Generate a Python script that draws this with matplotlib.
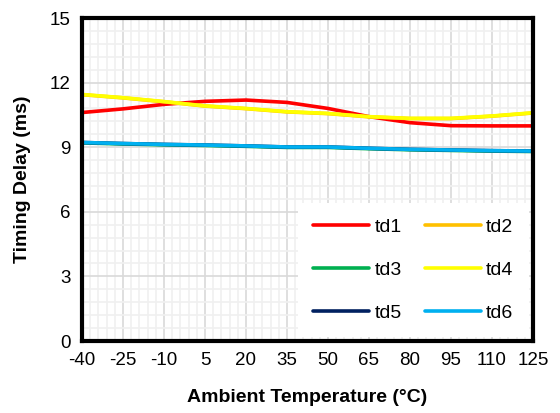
import numpy as np
import matplotlib
matplotlib.use("Agg")
import matplotlib.pyplot as plt

temp = [-40, -25, -10, 5, 20, 35, 50, 65, 80, 95, 110, 125]
td1 = [10.61, 10.78, 10.99, 11.13, 11.19, 11.08, 10.80, 10.42, 10.14, 10.00, 9.99, 9.99]
td2 = [11.44, 11.29, 11.11, 10.91, 10.79, 10.64, 10.56, 10.41, 10.33, 10.33, 10.44, 10.59]
td3 = [9.20, 9.15, 9.11, 9.08, 9.04, 8.99, 8.99, 8.93, 8.88, 8.85, 8.82, 8.80]
td4 = [11.45, 11.30, 11.12, 10.92, 10.80, 10.65, 10.57, 10.42, 10.34, 10.34, 10.45, 10.60]
td5 = [9.22, 9.17, 9.13, 9.10, 9.06, 9.01, 9.01, 8.95, 8.90, 8.87, 8.84, 8.82]
td6 = [9.22, 9.17, 9.13, 9.10, 9.06, 9.01, 9.01, 8.95, 8.90, 8.87, 8.84, 8.82]

names = ['td1', 'td2', 'td3', 'td4', 'td5', 'td6']
colors = ['#ff0000', '#ffc000', '#00b050', '#ffff00', '#002060', '#00b0f0']

plt.rcParams['font.family'] = ['Liberation Sans', 'DejaVu Sans']
plt.rcParams['axes.unicode_minus'] = False

fig = plt.figure(figsize=(5.6, 4.13), dpi=100)
ax = fig.add_axes([0.1464, 0.1743, 0.8054, 0.7821])

lines = []
for vals, name, c in zip([td1, td2, td3, td4, td5, td6], names, colors):
  ln, = ax.plot(temp, vals, color=c, lw=2.6, label=name, solid_capstyle='round')
  lines.append(ln)

ax.set_xlim(-40, 125)
ax.set_ylim(0, 15)
ax.set_xticks(np.arange(-40, 126, 15))
ax.set_xticks(np.arange(-40, 126, 3), minor=True)
ax.set_yticks(np.arange(0, 16, 3))
ax.set_yticks(np.arange(0, 15.01, 0.6), minor=True)
ax.grid(which='major', color='#d9d9d9', lw=1.2)
ax.grid(which='minor', color='#f0f0f0', lw=1.2)
ax.set_axisbelow(True)
ax.tick_params(which='both', length=0, labelsize=13.5)
ax.tick_params(axis='x', pad=8)
ax.tick_params(axis='y', pad=8)
for s in ax.spines.values():
  s.set_linewidth(3)
  s.set_color('black')

ax.set_xlabel('Ambient Temperature (°C)', fontsize=14, fontweight='bold', labelpad=14)
ax.set_ylabel('Timing Delay (ms)', fontsize=14, fontweight='bold', labelpad=14)

order = [0, 2, 4, 1, 3, 5]
leg = ax.legend([lines[i] for i in order], [names[i] for i in order],
                ncol=2, loc='lower right', bbox_to_anchor=(1.0, 0.0), borderaxespad=0.2,
                fontsize=14, handlelength=2.9, handletextpad=0.25, columnspacing=1.2,
                labelspacing=1.3, frameon=True, fancybox=False, borderpad=0.8)
leg.get_frame().set_facecolor('white')
leg.get_frame().set_edgecolor('none')
leg.get_frame().set_alpha(1)

fig.savefig('out.png', dpi=100)
